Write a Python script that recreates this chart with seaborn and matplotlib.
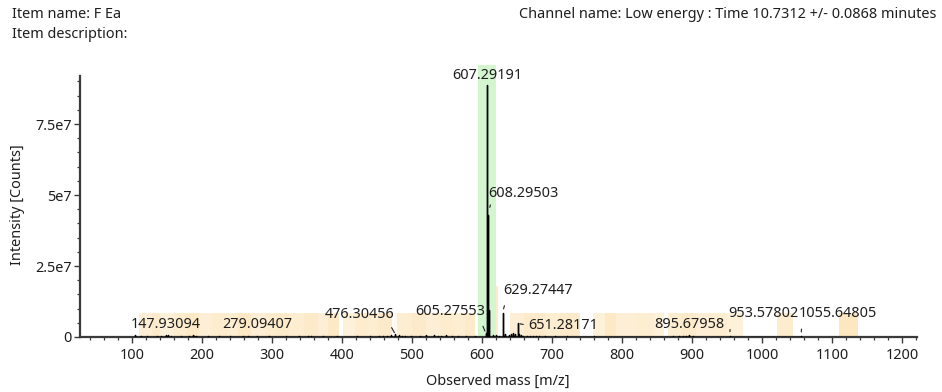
import matplotlib
matplotlib.use("Agg")
import numpy as np
import pandas as pd
import matplotlib.pyplot as plt
import seaborn as sns
from matplotlib.ticker import FixedLocator, FixedFormatter, MultipleLocator

# ---- spectrum data ---------------------------------------------------------
peak_mz = [104.0, 112.5, 121.0, 135.2, 141.8, 147.93094, 152.1, 156.4, 170.2,
           181.5, 186.9, 189.0, 191.3, 208.4, 223.6, 240.1, 258.3, 266.0,
           279.09407, 296.2, 320.5, 338.4, 351.0, 355.2, 372.8, 393.1, 421.0,
           440.2, 452.6, 458.9, 464.3, 470.1, 476.30456, 481.2, 485.6, 490.3,
           497.9, 511.2, 520.4, 531.3, 536.8, 541.9, 548.2, 556.7, 565.1,
           577.3, 589.4, 605.27553, 607.29191, 608.29503, 609.29810, 615.3,
           620.2, 623.9, 629.27447, 630.27800, 633.4, 637.9, 641.2, 644.6,
           647.3, 651.28171, 652.28500, 655.3, 659.2, 663.8, 668.1, 672.4,
           676.9, 681.3, 689.6, 703.8, 721.4, 760.2, 873.5, 881.6, 886.9,
           891.2, 895.67958, 901.3, 953.57802, 1055.64805]
peak_int = [0.8e6, 0.3e6, 0.3e6, 0.5e6, 0.3e6, 0.6e6, 0.7e6, 0.5e6, 0.4e6,
            0.3e6, 0.6e6, 0.5e6, 0.4e6, 0.3e6, 0.3e6, 0.4e6, 0.3e6, 0.3e6,
            0.4e6, 0.3e6, 0.4e6, 0.3e6, 0.5e6, 0.4e6, 0.3e6, 0.3e6, 0.3e6,
            0.3e6, 0.5e6, 0.5e6, 0.4e6, 0.6e6, 0.9e6, 0.6e6, 0.4e6, 0.5e6,
            0.4e6, 0.4e6, 0.6e6, 0.7e6, 0.4e6, 0.3e6, 0.6e6, 0.5e6, 0.4e6,
            0.3e6, 0.3e6, 1.4e6, 8.86e7, 4.28e7, 9.5e6, 0.6e6,
            0.6e6, 0.5e6, 8.5e6, 1.5e6, 0.9e6, 0.7e6, 1.0e6, 1.4e6,
            0.9e6, 4.8e6, 0.9e6, 0.6e6, 0.5e6, 0.4e6, 0.4e6, 0.4e6,
            0.3e6, 0.3e6, 0.3e6, 0.3e6, 0.2e6, 0.2e6, 0.3e6, 0.5e6, 0.5e6,
            0.4e6, 0.6e6, 0.4e6, 0.4e6, 0.3e6]

# Labelled peaks (accurate mass)
label_mz = [147.93094, 279.09407, 476.30456, 605.27553, 607.29191,
            608.29503, 629.27447, 651.28171, 895.67958, 953.57802, 1055.64805]

# Lock-mass window and matched-ion windows (m/z start, m/z end)
lock_window = [594.0, 620.0]
band_start = [110, 128, 140, 160, 178, 195, 214, 236, 252, 270, 290, 306,
              324, 345, 365, 380, 401, 418, 436, 452, 474, 478, 500, 520,
              540, 560, 576, 594, 640, 660, 690, 712, 759, 775, 792, 820,
              845, 866, 884, 905, 928, 950, 1021, 1110]
band_end = [128, 140, 160, 178, 195, 214, 236, 252, 270, 290, 306, 324,
            345, 365, 380, 395, 418, 436, 452, 472, 478, 500, 520, 540,
            560, 576, 590, 623, 660, 690, 712, 740, 775, 792, 820, 845,
            860, 884, 905, 928, 950, 973, 1044, 1137]
band_height = [8.3e6] * 27 + [1.8e7] + [8.3e6] * 16
band_alpha = [0.46, 0.58, 0.40, 0.54, 0.62, 0.46, 0.54, 0.50, 0.62, 0.46,
              0.54, 0.58, 0.50, 0.58, 0.46, 0.62, 0.40, 0.54, 0.50, 0.58,
              0.14, 0.50, 0.58, 0.46, 0.54, 0.50, 0.58, 0.56, 0.46, 0.58,
              0.50, 0.58, 0.40, 0.62, 0.46, 0.50, 0.40, 0.50, 0.58, 0.46,
              0.50, 0.40, 0.54, 0.68]

x_ticks = [100, 200, 300, 400, 500, 600, 700, 800, 900, 1000, 1100, 1200]
y_ticks = [0, 2.5e7, 5e7, 7.5e7]
y_tick_labels = ["0", "2.5e7", "5e7", "7.5e7"]

# ---- style -----------------------------------------------------------------
sns.set_style("ticks")
plt.rcParams["font.family"] = ["Noto Sans", "DejaVu Sans"]
fs = 10.4
txt = "#1e1e1e"
axis_col = "#3a3a3a"

fig = plt.figure(figsize=(9.42, 3.92), dpi=100)
ax = fig.add_axes([80 / 942, 1 - 337 / 392, 837 / 942, 272 / 392])

y_top = 9.58e7
ax.set_xlim(25.7, 1221.4)
ax.set_ylim(0, y_top)

# matched-ion windows
bands = pd.DataFrame({"start": band_start, "end": band_end,
                      "height": band_height, "alpha": band_alpha})
for _, b in bands.iterrows():
    ax.bar(b["start"], b["height"], width=b["end"] - b["start"], align="edge",
           color="#fcdca4", alpha=b["alpha"], linewidth=0, zorder=1)
# lock-mass window
ax.bar(lock_window[0], y_top, width=lock_window[1] - lock_window[0],
       align="edge", color="#d3f6ce", linewidth=0, zorder=1.5)

# centroid sticks drawn as a single zig-zag trace
xs, ys = [], []
for m, h in zip(peak_mz, peak_int):
    xs += [m, m, m]
    ys += [0.0, h, 0.0]
sticks = pd.DataFrame({"mz": xs, "intensity": ys})
sns.lineplot(data=sticks, x="mz", y="intensity", sort=False, estimator=None,
             color="black", linewidth=1.0, ax=ax, zorder=3)

# peak annotations: offset in pixels, alignment, leader (relpos, shrinkA, shrinkB)
label_style = {
    147.93094: ((0, 11), "center", None),
    279.09407: ((0, 11), "center", None),
    476.30456: ((-1.4, 20), "right", ((0.92, 0), 2, 1.5)),
    605.27553: ((-0.7, 21.4), "right", ((0.93, 0), 3, 1.5)),
    607.29191: ((0, 10), "center", None),
    608.29503: ((0, 22), "left", ((0.05, 0), 0.5, 6)),
    629.27447: ((1, 22), "left", ((0.04, 0), 3, 3)),
    651.28171: ((10, -2), "left", ((0, 0.5), 1, 1.5)),
    895.67958: ((0, 11), "center", None),
    953.57802: ((-1.5, 22), "left", ((0.04, 0), 3.5, 3)),
    1055.64805: ((-2, 22.6), "left", ((0.04, 0), 3.5, 3)),
}
for m in label_mz:
    h = peak_int[peak_mz.index(m)]
    (dx, dy), ha, leader = label_style[m]
    kw = {}
    if leader is not None:
        relpos, sa, sb = leader
        kw["arrowprops"] = dict(arrowstyle="-", color=txt, lw=0.8,
                                relpos=relpos, shrinkA=sa, shrinkB=sb)
    ax.annotate(f"{m:.5f}", xy=(m, h), xytext=(dx, dy),
                textcoords="offset pixels", ha=ha, va="center",
                color=txt, fontsize=fs, zorder=4, **kw)

# axes styling
for s in ("top", "right"):
    ax.spines[s].set_visible(False)
for s in ("left", "bottom"):
    ax.spines[s].set_color(axis_col)
    ax.spines[s].set_linewidth(1.6)
ax.spines["left"].set_bounds(0, 9.2e7)
ax.xaxis.set_major_locator(FixedLocator(x_ticks))
ax.xaxis.set_minor_locator(MultipleLocator(20))
ax.yaxis.set_major_locator(FixedLocator(y_ticks))
ax.yaxis.set_major_formatter(FixedFormatter(y_tick_labels))
ax.yaxis.set_minor_locator(FixedLocator(np.arange(0, 9.2e7, 5e6)))
ax.tick_params(which="major", length=4, width=1, color=axis_col,
               labelcolor=txt, labelsize=fs, direction="out", pad=4)
ax.tick_params(which="minor", length=2.5, width=0.9, color=axis_col,
               direction="out")
ax.tick_params(axis="y", which="major", pad=2)
ax.set_xlabel("")
ax.set_ylabel("")

fig.text(498 / 942, 1 - 381 / 392, "Observed mass [m/z]", ha="center",
         va="center", color=txt, fontsize=fs)
fig.text(18 / 942, 1 - 205 / 392, "Intensity [Counts]", ha="center",
         va="center", rotation=90, color=txt, fontsize=fs)

fig.text(12 / 942, 1 - 14 / 392, "Item name: F Ea", ha="left", va="center",
         color=txt, fontsize=fs)
fig.text(12 / 942, 1 - 34 / 392, "Item description:", ha="left",
         va="center", color=txt, fontsize=fs)
fig.text(936 / 942, 1 - 14 / 392,
         "Channel name: Low energy : Time 10.7312 +/- 0.0868 minutes",
         ha="right", va="center", color=txt, fontsize=fs)

fig.savefig("out.png", dpi=100, facecolor="white")
